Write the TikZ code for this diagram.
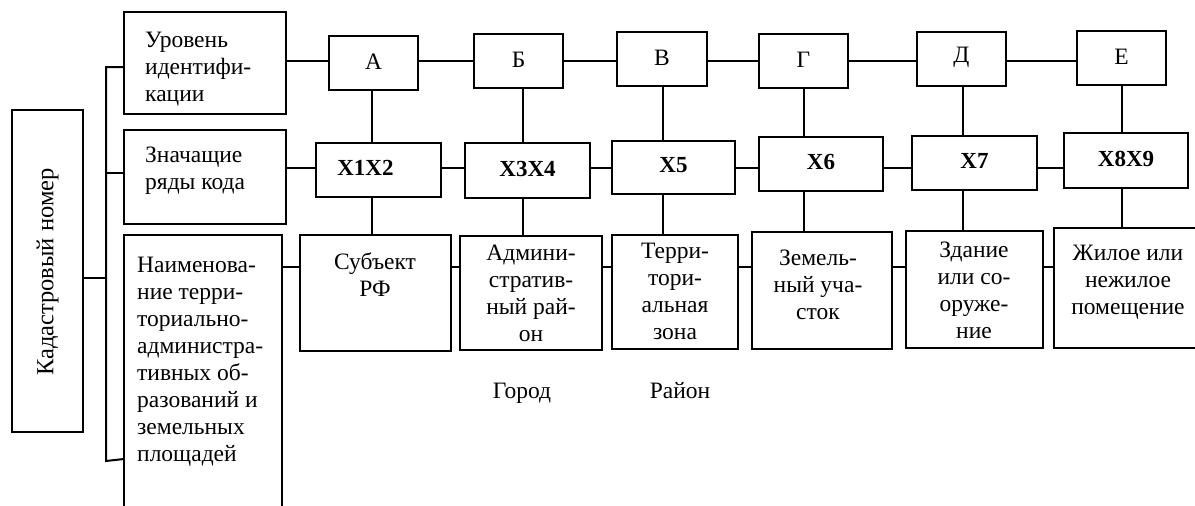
\documentclass[tikz,border=0pt]{standalone}
\usepackage{fontspec}
\setmainfont{Liberation Serif}
\usetikzlibrary{fit}
\tikzset{
  frame/.style={draw, line width=2pt, inner sep=0pt},
  link/.style={line width=2pt},
  txt/.style={inner sep=0pt, font=\fontsize{23.5}{27}\selectfont},
  code/.style={inner sep=0pt, font=\fontsize{23}{27}\selectfont\bfseries},
}
\begin{document}
\begin{tikzpicture}[x=1pt,y=-1pt]
\useasboundingbox (0,0) rectangle (1195,506);
\clip (0,0) rectangle (1195,506);

% left column
\node[frame, fit={(12,110)(83,432)}] (K) {};
\node[txt, rotate=90, font=\fontsize{24.5}{27}\selectfont] (Kt) at (47.5,272) {Кадастровый номер};
\node[frame, fit={(124,12)(286,114)}] (U) {};
\node[txt, align=left, anchor=north west] (Ut) at (145,32) {Уровень\\идентифи-\\кации};
\node[frame, fit={(124,130)(286,224)}] (Z) {};
\node[txt, align=left, anchor=north west] (Zt) at (145,147) {Значащие\\ряды кода};
\node[frame, fit={(124,235)(282,540)}] (N) {};
\node[txt, align=left, anchor=north west] (Nt) at (137,257) {Наименова-\\ние терри-\\ториально-\\администра-\\тивных об-\\разований и\\земельных\\площадей};

% identification levels
\node[frame, fit={(329,36)(418,90)}] (A) {};
\node[frame, fit={(474,34)(563,88)}] (B) {};
\node[frame, fit={(617,32)(707,86)}] (V) {};
\node[frame, fit={(759,34)(848,88)}] (G) {};
\node[frame, fit={(917,32)(1006,86)}] (D) {};
\node[frame, fit={(1077,31)(1166,85)}] (E) {};
\node[txt, yshift=1.5pt] (At) at (A.center) {А};
\node[txt, yshift=1.5pt] (Bt) at (B.center) {Б};
\node[txt, yshift=1.5pt] (Vt) at (V.center) {В};
\node[txt, yshift=1.5pt] (Gt) at (G.center) {Г};
\node[txt, yshift=1.5pt] (Dt) at (D.center) {Д};
\node[txt, yshift=1.5pt] (Et) at (E.center) {Е};

% code digits
\node[frame, fit={(316,143)(441,197)}] (X1) {};
\node[frame, fit={(465,143)(590,198)}] (X2) {};
\node[frame, fit={(612,141)(735,194)}] (X3) {};
\node[frame, fit={(759,137)(883,191)}] (X4) {};
\node[frame, fit={(912,136)(1037,190)}] (X5) {};
\node[frame, fit={(1064,133)(1188,188)}] (X6) {};
\node[code, xshift=-13pt, yshift=2pt] (X1t) at (X1.center) {X1X2};
\node[code, yshift=2pt] (X2t) at (X2.center) {X3X4};
\node[code, yshift=2pt] (X3t) at (X3.center) {X5};
\node[code, yshift=2pt] (X4t) at (X4.center) {X6};
\node[code, yshift=2pt] (X5t) at (X5.center) {X7};
\node[code, yshift=2pt] (X6t) at (X6.center) {X8X9};

% named units
\node[frame, fit={(300,235)(451,351)}] (S) {};
\node[frame, fit={(460,236)(602,350)}] (Ad) {};
\node[frame, fit={(612,235)(738,349)}] (T) {};
\node[frame, fit={(752,232)(892,349)}] (Zm) {};
\node[frame, fit={(906,231)(1043,348)}] (Zd) {};
\node[frame, fit={(1054,228)(1225,348)}] (Zh) {};
\node[txt, align=center, anchor=north] (St) at (375,252) {Субъект\\РФ};
\node[txt, align=center, anchor=north] (Adt) at (531,245) {Админи-\\стратив-\\ный рай-\\он};
\node[txt, align=center, anchor=north] (Tt) at (675,243) {Терри-\\тори-\\альная\\зона};
\node[txt, align=center, anchor=north] (Zmt) at (818,250) {Земель-\\ный уча-\\сток};
\node[txt, align=center, anchor=north] (Zdt) at (974,242) {Здание\\или со-\\оруже-\\ние};
\node[txt, align=center, anchor=north] (Zht) at (1128,245) {Жилое или\\нежилое\\помещение};

\node[txt, anchor=base] (city) at (522,398) {Город};
\node[txt, anchor=base] (dist) at (680,398) {Район};

% bracket joining the three rows
\coordinate (bt) at (106,67);
\coordinate (bz) at (106,173);
\coordinate (bk) at (106,278);
\coordinate (bb) at (106,461);
\coordinate (bn) at (124,459);
\draw[link] (U.west |- bt) -- (bt) -- (bb) -- (bn);
\draw[link] (bz) -- (Z.west |- bz);
\draw[link] (K.east |- bk) -- (bk);

% horizontal chains
\coordinate (r1) at (0,61);
\coordinate (r2) at (0,168);
\coordinate (r3) at (0,267);
\foreach \a/\b in {U/A,A/B,B/V,V/G,G/D,D/E}
  \draw[link] (\a.east |- r1) -- (\b.west |- r1);
\foreach \a/\b in {Z/X1,X1/X2,X2/X3,X3/X4,X4/X5,X5/X6}
  \draw[link] (\a.east |- r2) -- (\b.west |- r2);
\foreach \a/\b in {N/S,S/Ad,Ad/T,T/Zm,Zm/Zd,Zd/Zh}
  \draw[link] (\a.east |- r3) -- (\b.west |- r3);

% vertical links between rows
\coordinate (c1) at (372,0);
\coordinate (c2) at (523,0);
\coordinate (c3) at (663,0);
\coordinate (c4) at (804,0);
\coordinate (c5) at (963,0);
\coordinate (c6) at (1122,0);
\foreach \u/\m/\l/\c in {A/X1/S/c1,B/X2/Ad/c2,V/X3/T/c3,G/X4/Zm/c4,D/X5/Zd/c5,E/X6/Zh/c6}{
  \draw[link] (\u.south -| \c) -- (\m.north -| \c);
  \draw[link] (\m.south -| \c) -- (\l.north -| \c);
}
\end{tikzpicture}
\end{document}
